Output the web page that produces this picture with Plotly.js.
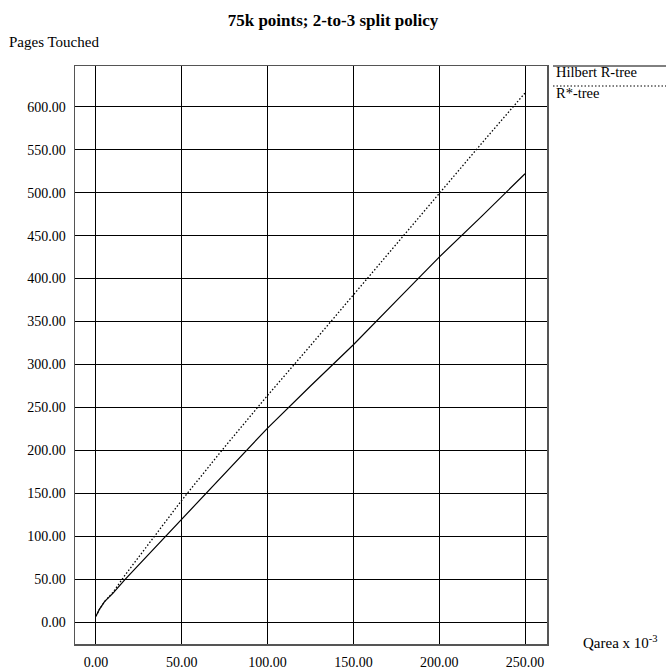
<!DOCTYPE html>
<html>
<head>
<meta charset="utf-8">
<script src="https://cdn.plot.ly/plotly-3.0.1.min.js"></script>
<style>html,body{margin:0;padding:0;background:#fff;}#chart{width:666px;height:672px;}</style>
</head>
<body>
<div id="chart"></div>
<script>
// Query area (x 10^-3)
const qarea = [0, 2, 5, 10, 17, 25, 50, 75, 100, 125, 150, 175, 200, 225, 250];
// Pages touched
const hilbert = [7, 15, 24, 34, 50, 67, 120, 174, 226, 275, 323, 374, 425, 473, 522];
const rstar   = [7, 15, 24, 35, 55, 76, 142, 204, 264, 322, 381, 441, 500, 558, 616];
const seriesNames = ["Hilbert R-tree", "R*-tree"];
const xTicks = [0, 50, 100, 150, 200, 250];
const yTicks = [0, 50, 100, 150, 200, 250, 300, 350, 400, 450, 500, 550, 600];

const FONT = "Liberation Serif, Times New Roman, serif";

const traces = [
  {x: qarea, y: hilbert, name: seriesNames[0], mode: "lines", line: {color: "#000", width: 1.2, dash: "solid"}},
  {x: qarea, y: rstar, name: seriesNames[1], mode: "lines", line: {color: "#000", width: 1.3, dash: "1.5px,2px"}}
];

const plotL = 75, plotR = 547, plotT = 66, plotB = 644, W = 666, H = 672;
const pw = plotR - plotL, ph = plotB - plotT;
const px = v => (v - plotL) / pw;
const py = v => (plotB - v) / ph;

const layout = {
  width: W, height: H,
  margin: {l: plotL, r: W - plotR, t: plotT, b: H - plotB, pad: 0},
  paper_bgcolor: "#fff", plot_bgcolor: "#fff",
  showlegend: false,
  font: {family: FONT, size: 14, color: "#000"},
  title: {text: "<b>75k points; 2-to-3 split policy</b>", font: {family: FONT, size: 17, color: "#000"},
          x: 0.5, xref: "container", y: 1 - 20 / H, yref: "container", yanchor: "middle"},
  xaxis: {
    range: [-12.2, 262.8], tickvals: xTicks, tickformat: ".2f",
    showgrid: true, gridcolor: "#000", gridwidth: 1, zeroline: false,
    showline: true, mirror: true, linecolor: "#555", linewidth: 1.5,
    ticks: "", ticklabelstandoff: 5, tickfont: {family: FONT, size: 14, color: "#000"}
  },
  yaxis: {
    range: [-25.3, 647.4], tickvals: yTicks, tickformat: ".2f",
    showgrid: true, gridcolor: "#000", gridwidth: 1, zeroline: false,
    showline: true, mirror: true, linecolor: "#555", linewidth: 1.5,
    ticks: "", ticklabelstandoff: 5, tickfont: {family: FONT, size: 14, color: "#000"}
  },
  shapes: [
    {type: "line", xref: "paper", yref: "paper", x0: px(553), x1: px(666), y0: py(66), y1: py(66), line: {color: "#000", width: 1}},
    {type: "line", xref: "paper", yref: "paper", x0: px(553), x1: px(666), y0: py(86), y1: py(86), line: {color: "#000", width: 1.2, dash: "1.5px,2px"}}
  ],
  annotations: [
    {text: seriesNames[0], xref: "paper", yref: "paper", x: px(554), y: py(72), xanchor: "left", yanchor: "middle", showarrow: false, font: {family: FONT, size: 14.5, color: "#000"}},
    {text: seriesNames[1], xref: "paper", yref: "paper", x: px(554), y: py(93), xanchor: "left", yanchor: "middle", showarrow: false, font: {family: FONT, size: 14.5, color: "#000"}},
    {text: "Pages Touched", xref: "paper", yref: "paper", x: px(7), y: py(42), xanchor: "left", yanchor: "middle", showarrow: false, font: {family: FONT, size: 15, color: "#000"}},
    {text: "Qarea x 10<sup>-3</sup>", xref: "paper", yref: "paper", x: px(581), y: py(642), xanchor: "left", yanchor: "middle", showarrow: false, font: {family: FONT, size: 15, color: "#000"}}
  ]
};

Plotly.newPlot("chart", traces, layout, {displayModeBar: false, staticPlot: true});
</script>
</body>
</html>
